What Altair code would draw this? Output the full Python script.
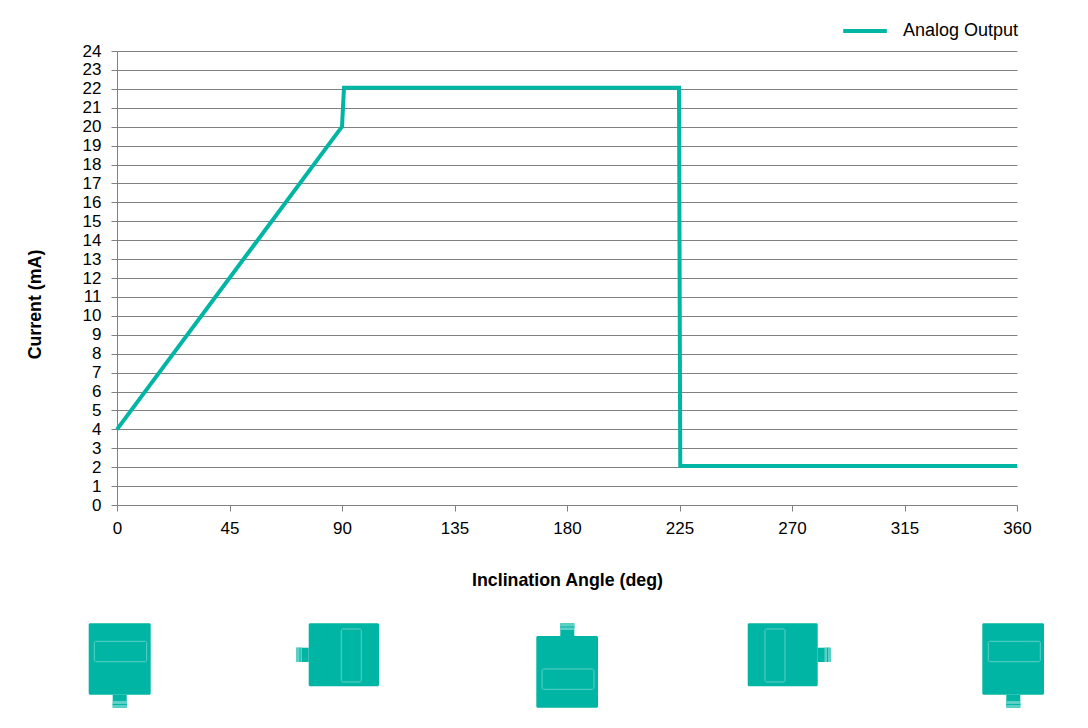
import altair as alt
import pandas as pd

TEAL = "#00B5A4"
LIGHT = "#5CD0C5"
GREY = "#808080"
FONT = "Liberation Sans"

angle = [0, 90, 90.8, 224.8, 225.3, 360]
current = [4, 20, 22.06, 22.06, 2.06, 2.06]
series = ["Analog Output"] * len(angle)
x_ticks = [0, 45, 90, 135, 180, 225, 270, 315, 360]
y_ticks = list(range(0, 25))

# Sensor orientation pictograms, in figure pixels: left, right, top, bottom
body_x1 = [88.7, 308.7, 536.3, 747.7, 982.3]
body_x2 = [150.7, 379.0, 598.0, 817.7, 1044.0]
body_y1 = [623.3, 623.3, 636.0, 623.3, 623.3]
body_y2 = [694.7, 686.3, 707.7, 686.3, 694.7]
stem_x1 = [112.7, 296.0, 560.3, 817.7, 1006.3]
stem_x2 = [126.7, 308.7, 574.3, 830.7, 1020.3]
stem_y1 = [694.7, 647.7, 623.3, 647.7, 694.7]
stem_y2 = [707.7, 662.0, 636.0, 662.0, 707.7]
tip_x1 = [112.7, 296.0, 560.3, 824.5, 1006.3]
tip_x2 = [126.7, 302.0, 574.3, 830.7, 1020.3]
tip_y1 = [701.0, 647.7, 623.3, 647.7, 701.0]
tip_y2 = [707.7, 662.0, 630.0, 662.0, 707.7]
stripe_x1 = [112.7, 299.5, 560.3, 827.0, 1006.3]
stripe_x2 = [126.7, 300.5, 574.3, 828.0, 1020.3]
stripe_y1 = [704.0, 647.7, 626.5, 647.7, 704.0]
stripe_y2 = [705.0, 662.0, 627.5, 662.0, 705.0]
win_x1 = [94.3, 341.3, 542.0, 765.0, 988.3]
win_x2 = [146.7, 361.3, 594.0, 785.0, 1040.3]
win_y1 = [641.3, 629.0, 669.0, 629.0, 641.3]
win_y2 = [661.7, 682.0, 689.3, 682.0, 661.7]

W, H = 900, 454
LEFT, TOP = 117, 51


def frame(x1, x2, y1, y2):
    return pd.DataFrame({"x1": x1, "x2": x2, "y1": y1, "y2": y2})


line_df = pd.DataFrame({"angle": angle, "current": current, "series": series})

line = (
    alt.Chart(line_df)
    .mark_line(strokeWidth=4, strokeJoin="miter", clip=False)
    .encode(
        x=alt.X(
            "angle:Q",
            scale=alt.Scale(domain=[0, 360], nice=False),
            axis=alt.Axis(
                values=x_ticks,
                title="Inclination Angle (deg)",
                grid=False,
                domain=False,
                tickColor=GREY,
                tickSize=6,
                labelPadding=9,
                labelFlush=False,
                titlePadding=35,
                format="d",
            ),
        ),
        y=alt.Y(
            "current:Q",
            scale=alt.Scale(domain=[0, 24], nice=False),
            axis=alt.Axis(
                values=y_ticks,
                title="Current (mA)",
                titleY=253,
                grid=True,
                gridColor=GREY,
                gridOpacity=1,
                domain=True,
                domainColor=GREY,
                tickColor=GREY,
                tickSize=6,
                labelPadding=10,
                labelFlush=False,
                titlePadding=38,
                format="d",
            ),
        ),
        color=alt.Color(
            "series:N",
            scale=alt.Scale(domain=["Analog Output"], range=[TEAL]),
            legend=alt.Legend(
                title=None,
                orient="none",
                legendX=724,
                legendY=-44,
                symbolType="stroke",
                symbolSize=1900,
                symbolStrokeWidth=4,
                labelFontSize=18,
                labelOffset=14,
                labelFont=FONT,
                labelColor="#000000",
            ),
        ),
    )
)

px_x = alt.Scale(domain=[LEFT, LEFT + W], nice=False, zero=False)
px_y = alt.Scale(domain=[TOP + H, TOP], nice=False, zero=False)


def rects(df, **mark):
    return (
        alt.Chart(df)
        .mark_rect(clip=False, **mark)
        .encode(
            x=alt.X("x1:Q", scale=px_x, axis=None),
            x2="x2:Q",
            y=alt.Y("y1:Q", scale=px_y, axis=None),
            y2="y2:Q",
        )
    )


icons = alt.layer(
    rects(frame(stem_x1, stem_x2, stem_y1, stem_y2), color=TEAL),
    rects(frame(tip_x1, tip_x2, tip_y1, tip_y2), color=LIGHT),
    rects(frame(stripe_x1, stripe_x2, stripe_y1, stripe_y2), color=TEAL),
    rects(frame(body_x1, body_x2, body_y1, body_y2), color=TEAL, cornerRadius=1.5),
    rects(
        frame(win_x1, win_x2, win_y1, win_y2),
        fillOpacity=0,
        stroke=LIGHT,
        strokeWidth=1,
        cornerRadius=1.5,
    ),
)

chart = (
    alt.layer(line, icons)
    .resolve_scale(x="independent", y="independent", color="independent")
    .resolve_axis(x="independent", y="independent")
    .properties(
        width=W,
        height=H,
        autosize=alt.AutoSizeParams(type="none", contains="content"),
        padding={"left": 109, "top": 43, "right": 60, "bottom": 212},
        background="white",
    )
    .configure_view(stroke=None)
    .configure_axis(
        labelFont=FONT,
        titleFont=FONT,
        labelFontSize=17,
        titleFontSize=17.8,
        titleFontWeight="bold",
        labelColor="#000000",
        titleColor="#000000",
    )
)

chart.save("out.html", embed_options={"renderer": "svg", "actions": False})
